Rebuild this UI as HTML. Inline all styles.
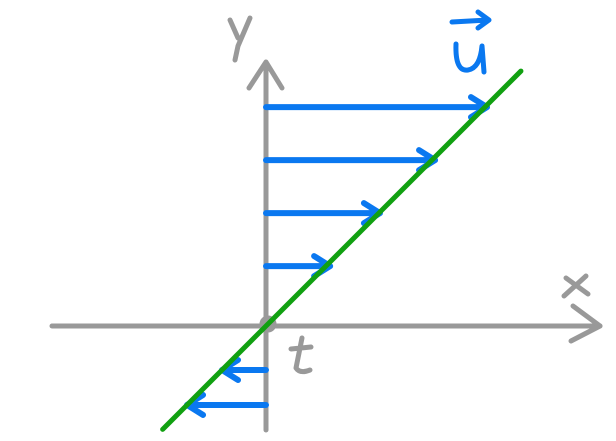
<!DOCTYPE html>
<html><head><meta charset="utf-8"><style>
html,body{margin:0;padding:0;background:#fff;width:616px;height:441px;overflow:hidden}
svg text{font-family:"Liberation Sans",sans-serif}
</style></head><body>
<svg id="chart" width="616" height="441" viewBox="0 0 616 441" xmlns="http://www.w3.org/2000/svg">
<g id="axes" stroke="#999" stroke-width="5" stroke-linecap="round" stroke-linejoin="round" fill="none">
  <path d="M52 326 L600 326"/>
  <path d="M573 306 L600 326 L571 341"/>
  <path d="M266 430 L266 64"/>
  <path d="M249 88 L266 62 L282 88"/>
  <path d="M566 278 L588 294 M586 276 L564 296"/>
  <path d="M230 20 L238 38 M250 18 L238 46 L235 60"/>
  <path d="M291 349 L311 347 M302 338 L296 368 Q300 374 310 370"/>
  <circle cx="268" cy="324" r="6"/>
</g>
<g id="arrows" stroke="#0a78f0" stroke-width="6" stroke-linecap="round" stroke-linejoin="round" fill="none"></g>
<line id="profile" stroke="#11a011" stroke-width="5" stroke-linecap="round"/>
<g stroke="#0a78f0" stroke-width="5" stroke-linecap="round" stroke-linejoin="round" fill="none">
  <path d="M456 44 Q455 72 468 70 Q480 68 482 46 L484 72"/>
  <path d="M452 22 L488 20 M478 12 L489 20 L478 28"/>
</g>
<text x="-100" y="-100">u</text>
</svg>
<script>
const yLevels = [4.13, 3.13, 2.13, 1.13, -0.83, -1.49];
const uValues = [4.17, 3.19, 2.15, 1.21, -0.83, -1.49];
const lineY = [-1.95, 4.81];
const ox = 266, oy = 326, unit = 53;
const sx = v => ox + v * unit;
const sy = v => oy - v * unit;
const g = document.getElementById('arrows');
const NS = 'http://www.w3.org/2000/svg';
yLevels.forEach((y, i) => {
  const u = uValues[i];
  const x1 = sx(0), x2 = sx(u), yy = sy(y);
  const d = u >= 0 ? 1 : -1;
  const p = document.createElementNS(NS, 'path');
  p.setAttribute('d', `M${x1} ${yy} L${x2} ${yy} M${x2 - d*16} ${yy - 10} L${x2} ${yy} L${x2 - d*16} ${yy + 10}`);
  
  
  g.appendChild(p);
});
const l = document.getElementById('profile');
l.setAttribute('x1', sx(lineY[0])); l.setAttribute('y1', sy(lineY[0]));
l.setAttribute('x2', sx(lineY[1])); l.setAttribute('y2', sy(lineY[1]));
</script>
</body></html>
